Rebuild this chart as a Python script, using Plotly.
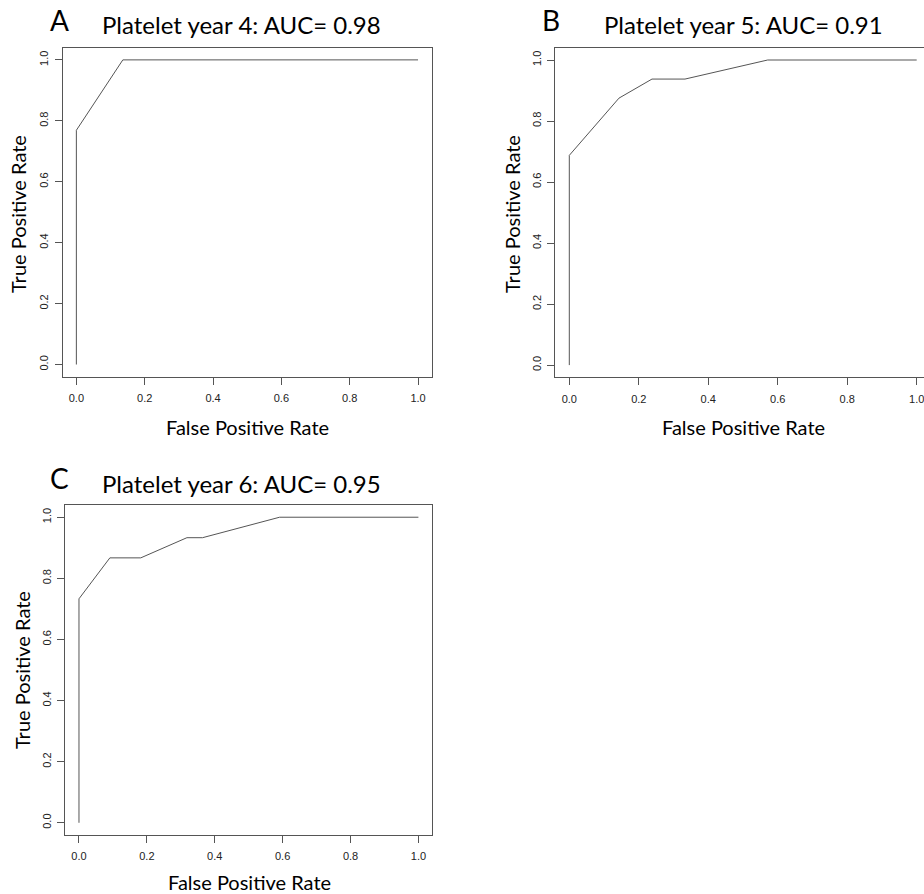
import plotly.graph_objects as go

# ---- data ----
fpr_a = [0.0, 0.0, 0.136, 1.0]
tpr_a = [0.0, 0.769, 1.0, 1.0]

fpr_b = [0.0, 0.0, 0.143, 0.238, 0.333, 0.571, 1.0]
tpr_b = [0.0, 0.6875, 0.875, 0.9375, 0.9375, 1.0, 1.0]

fpr_c = [0.0, 0.0, 0.091, 0.182, 0.318, 0.364, 0.591, 1.0]
tpr_c = [0.0, 0.733, 0.867, 0.867, 0.933, 0.933, 1.0, 1.0]

panel_letters = ["A", "B", "C"]
panel_titles = ["Platelet year 4: AUC= 0.98", "Platelet year 5: AUC= 0.91", "Platelet year 6: AUC= 0.95"]
tick_vals = [0.0, 0.2, 0.4, 0.6, 0.8, 1.0]
tick_text = ["0.0", "0.2", "0.4", "0.6", "0.8", "1.0"]
x_title = "False Positive Rate"
y_title = "True Positive Rate"

W, H = 924, 894
def px(x):
    return x / W
def py(y):
    return 1 - y / H

LINE = "#555555"
AX = "#555555"
TITLE_FONT = "Lato"
TICK_FONT = dict(family="Liberation Sans, Arial", size=11, color="#222")

fig = go.Figure()
series = [(fpr_a, tpr_a), (fpr_b, tpr_b), (fpr_c, tpr_c)]
for i, (xs, ys) in enumerate(series):
    sfx = "" if i == 0 else str(i + 1)
    fig.add_trace(go.Scatter(x=xs, y=ys, mode="lines", line=dict(color=LINE, width=1),
                             xaxis="x" + sfx, yaxis="y" + sfx, showlegend=False, hoverinfo="x+y"))

# domains (pixel based)
doms = [
    dict(x=[px(62.7), px(431.7)], y=[py(376.7), py(47.7)], xr=[-0.04, 1.04], mirror_y=True),
    dict(x=[px(555.4), 1.0], y=[py(377.3), py(47.8)], xr=[-0.04, (W - 569.3) / 347.4], mirror_y=False),
    dict(x=[px(65.4), px(432.0)], y=[py(835.0), py(505.0)], xr=[-0.04, 1.04], mirror_y=True),
]

layout = dict(width=W, height=H, margin=dict(l=0, r=0, t=0, b=0),
              plot_bgcolor="white", paper_bgcolor="white", showlegend=False)
for i, d in enumerate(doms):
    sfx = "" if i == 0 else str(i + 1)
    layout["xaxis" + sfx] = dict(domain=d["x"], range=d["xr"], anchor="y" + sfx,
                                 showgrid=False, zeroline=False, showline=True, mirror=True,
                                 linecolor=AX, linewidth=1, ticks="outside", ticklen=7,
                                 tickcolor=AX, tickwidth=1, tickvals=tick_vals, ticktext=tick_text,
                                 tickfont=TICK_FONT, ticklabelstandoff=4, ticklabeloverflow="allow")
    layout["yaxis" + sfx] = dict(domain=d["y"], range=[-0.04, 1.04], anchor="x" + sfx,
                                 showgrid=False, zeroline=False, showline=True, mirror=d["mirror_y"],
                                 linecolor=AX, linewidth=1, ticks="outside", ticklen=7,
                                 tickcolor=AX, tickwidth=1, tickvals=tick_vals, ticktext=tick_text,
                                 tickfont=TICK_FONT, tickangle=-90, ticklabelstandoff=2)
fig.update_layout(**layout)

# annotation positions (pixels)
letter_pos = [(59, 20), (551, 20), (60, 478)]
title_pos = [(241.7, 25), (743, 25), (241.7, 483)]
xt_pos = [(247, 427), (743, 427), (249, 882)]
yt_pos = [(18, 214), (512, 214), (22, 670)]

anns = []
for i in range(3):
    anns.append(dict(text=panel_letters[i], x=px(letter_pos[i][0]), y=py(letter_pos[i][1]),
                     xref="paper", yref="paper", showarrow=False, xanchor="center", yanchor="middle",
                     font=dict(family=TITLE_FONT, size=28, color="black")))
    anns.append(dict(text=panel_titles[i], x=px(title_pos[i][0]), y=py(title_pos[i][1]),
                     xref="paper", yref="paper", showarrow=False, xanchor="center", yanchor="middle",
                     font=dict(family=TITLE_FONT, size=24, color="black")))
    anns.append(dict(text=x_title, x=px(xt_pos[i][0]), y=py(xt_pos[i][1]),
                     xref="paper", yref="paper", showarrow=False, xanchor="center", yanchor="middle",
                     font=dict(family=TITLE_FONT, size=20, color="black")))
    anns.append(dict(text=y_title, x=px(yt_pos[i][0]), y=py(yt_pos[i][1]), textangle=-90,
                     xref="paper", yref="paper", showarrow=False, xanchor="center", yanchor="middle",
                     font=dict(family=TITLE_FONT, size=20, color="black")))
fig.update_layout(annotations=anns)

fig.write_html("out.html")
